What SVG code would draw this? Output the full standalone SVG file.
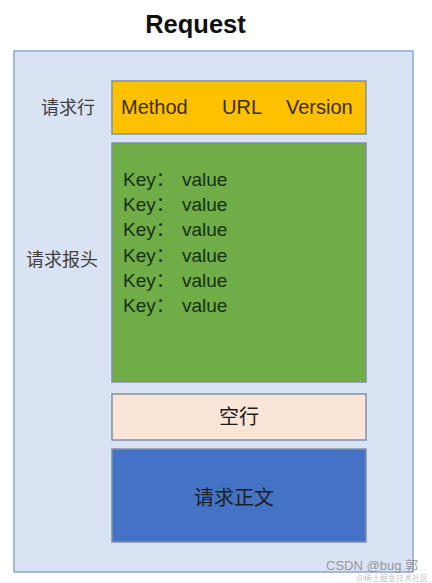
<svg xmlns="http://www.w3.org/2000/svg" width="432" height="583" viewBox="0 0 432 583">
<style>
.lbl{font-family:"Noto Sans CJK SC","Liberation Sans",sans-serif;font-size:18px;fill:#3f3f3f}
.box{stroke:#7f8fa9;stroke-width:1.5}
.kv{font-family:"Liberation Sans","Noto Sans CJK SC",sans-serif;font-size:19px;fill:#14300f}
.rl{font-family:"Liberation Sans",sans-serif;font-size:20px;fill:#3a2c00}
.cn{font-family:"Noto Sans CJK SC",sans-serif;font-size:20px;fill:#1e1e1e}
</style>
<rect width="432" height="583" fill="#ffffff"/>
<text x="195.5" y="33" text-anchor="middle" font-family="Liberation Sans, sans-serif" font-weight="bold" font-size="25.5" fill="#111111">Request</text>
<g id="request">
<rect x="14" y="51" width="399" height="521" fill="#dae3f3" stroke="#8fa7d0" stroke-width="1.5"/>
</g>
<g id="label-request-line"><text class="lbl" x="68" y="114" text-anchor="middle">请求行</text></g>
<g id="label-headers"><text class="lbl" x="62" y="266" text-anchor="middle">请求报头</text></g>
<g id="request-line">
<rect class="box" x="112" y="81" width="254" height="53" fill="#ffc000"/>
<text class="rl" x="121" y="114">Method</text>
<text class="rl" x="222" y="114">URL</text>
<text class="rl" x="286" y="114">Version</text>
</g>
<g id="headers">
<rect class="box" x="112" y="143" width="254" height="239" fill="#70ad47"/>
<text class="kv" x="123" y="186">Key：</text><text class="kv" x="182" y="186">value</text>
<text class="kv" x="123" y="211">Key：</text><text class="kv" x="182" y="211">value</text>
<text class="kv" x="123" y="236">Key：</text><text class="kv" x="182" y="236">value</text>
<text class="kv" x="123" y="262">Key：</text><text class="kv" x="182" y="262">value</text>
<text class="kv" x="123" y="287">Key：</text><text class="kv" x="182" y="287">value</text>
<text class="kv" x="123" y="312">Key：</text><text class="kv" x="182" y="312">value</text>
</g>
<g id="blank-line">
<rect class="box" x="112" y="394" width="254" height="46" fill="#fbe5d6"/>
<text class="cn" x="239" y="424" text-anchor="middle" fill="#333333">空行</text>
</g>
<g id="body">
<rect class="box" x="112" y="449" width="254" height="93" fill="#4472c4" stroke="#4472c4"/>
<text class="cn" x="234" y="505" text-anchor="middle">请求正文</text>
</g>
<g id="connectors"></g>
<text x="418" y="570" text-anchor="end" font-family="Liberation Sans, Noto Sans CJK SC, sans-serif" font-size="13" fill="#8a8a8a" opacity="0.85">CSDN @bug 郭</text>
<text x="428" y="581" text-anchor="end" font-family="Noto Sans CJK SC, sans-serif" font-size="8" fill="#b8b8b8" opacity="0.8">@稀土掘金技术社区</text>
</svg>
